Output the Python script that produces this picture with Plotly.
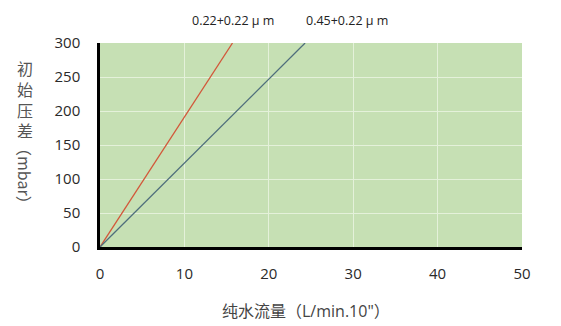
import plotly.graph_objects as go

flow = [0, 15.7]
flow2 = [0, 24.3]
pressure = [0, 300]
series_names = ["0.22+0.22 μ m", "0.45+0.22 μ m"]
x_ticks = [0, 10, 20, 30, 40, 50]
y_ticks = [0, 50, 100, 150, 200, 250, 300]

fig = go.Figure()
fig.add_trace(go.Scatter(x=flow, y=pressure, mode="lines", line=dict(color="#d2573a", width=1.3), name=series_names[0]))
fig.add_trace(go.Scatter(x=flow2, y=pressure, mode="lines", line=dict(color="#4f6e7c", width=1.3), name=series_names[1]))

font_fam = "Open Sans, Noto Sans CJK SC"
fig.update_layout(
    width=561, height=326,
    margin=dict(l=100, r=39, t=43, b=79),
    plot_bgcolor="#c6e0b4", paper_bgcolor="white",
    showlegend=False,
    font=dict(family=font_fam, color="#2a2a2a", size=15),
    xaxis=dict(range=[0, 50], tickvals=x_ticks, showgrid=True, gridcolor="#e4f1da", gridwidth=1,
               showline=True, linecolor="black", linewidth=2.5, zeroline=False,
               ticks="", ticklabelstandoff=11, tickfont=dict(size=15)),
    yaxis=dict(range=[0, 300], tickvals=y_ticks, showgrid=True, gridcolor="#e4f1da", gridwidth=1,
               showline=True, linecolor="black", linewidth=2.5, zeroline=False,
               ticks="", ticklabelstandoff=14, tickfont=dict(size=15)),
)

fig.add_annotation(x=flow[1], y=300, xref="x", yref="y", text=series_names[0], showarrow=False,
                   yshift=23, font=dict(size=12.5, color="#222222"))
fig.add_annotation(x=flow2[1], y=300, xref="x", yref="y", text=series_names[1], showarrow=False,
                   xshift=42, yshift=23, font=dict(size=12.5, color="#222222"))
fig.add_annotation(x=306, y=311, text="纯水流量（L/min.10\"）", showarrow=False,
                   font=dict(size=16, color="#444444"))
fig.add_annotation(x=25, y=100, text="初<br>始<br>压<br>差", showarrow=False,
                   font=dict(size=16, color="#555555"))
fig.add_annotation(x=25, y=176, text="（mbar）", showarrow=False, textangle=90,
                   font=dict(size=16, color="#555555", family="Noto Sans CJK SC"))

# convert pixel coordinates of annotations to paper coordinates
W, H = 561, 326
l, r, t, b = 100, 39, 43, 79
pw, ph = W - l - r, H - t - b
for a in fig.layout.annotations[2:]:
    px, py = a.x, a.y
    a.xref = "paper"; a.yref = "paper"
    a.xanchor = "center"; a.yanchor = "middle"
    a.x = (px - l) / pw
    a.y = (H - b - py) / ph

fig.write_html("out.html")
